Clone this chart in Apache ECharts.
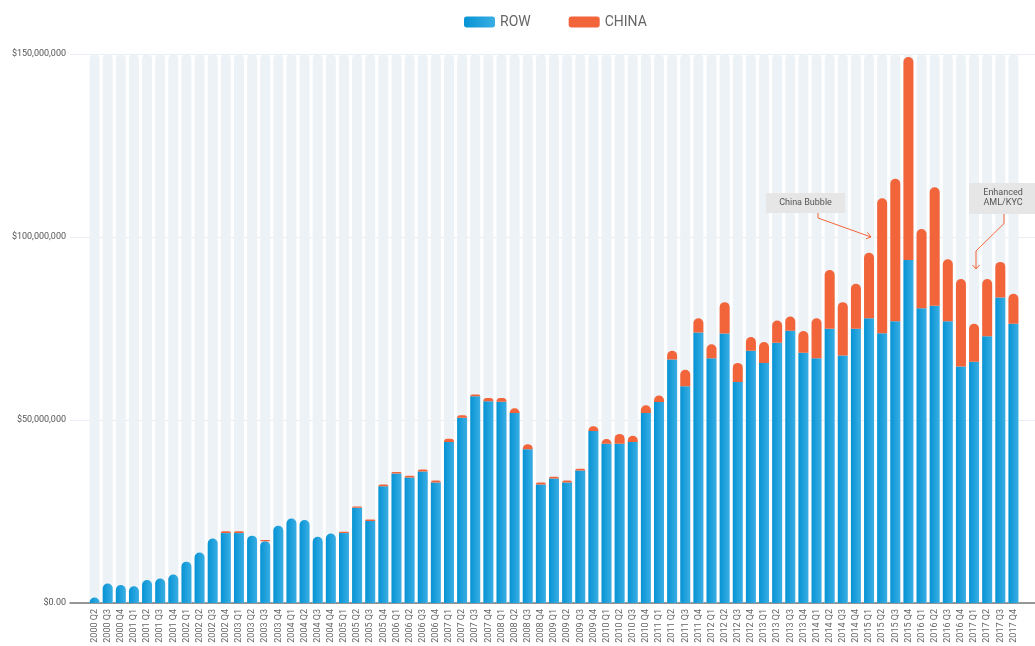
<!DOCTYPE html>
<html>
<head>
<meta charset="utf-8">
<script src="https://cdn.jsdelivr.net/npm/echarts@6/dist/echarts.min.js"></script>
<style>
  html, body { margin: 0; padding: 0; background: #fff; }
  #chart { width: 1035px; height: 646px; }
</style>
</head>
<body>
<div id="chart"></div>
<script>
  // quarters, values in millions of dollars
  const quarters = [
    '2000 Q2', '2000 Q3', '2000 Q4',
    '2001 Q1', '2001 Q2', '2001 Q3', '2001 Q4',
    '2002 Q1', '2002 Q2', '2002 Q3', '2002 Q4',
    '2003 Q1', '2003 Q2', '2003 Q3', '2003 Q4',
    '2004 Q1', '2004 Q2', '2004 Q3', '2004 Q4',
    '2005 Q1', '2005 Q2', '2005 Q3', '2005 Q4',
    '2006 Q1', '2006 Q2', '2006 Q3', '2006 Q4',
    '2007 Q1', '2007 Q2', '2007 Q3', '2007 Q4',
    '2008 Q1', '2008 Q2', '2008 Q3', '2008 Q4',
    '2009 Q1', '2009 Q2', '2009 Q3', '2009 Q4',
    '2010 Q1', '2010 Q2', '2010 Q3', '2010 Q4',
    '2011 Q1', '2011 Q2', '2011 Q3', '2011 Q4',
    '2012 Q1', '2012 Q2', '2012 Q3', '2012 Q4',
    '2013 Q1', '2013 Q2', '2013 Q3', '2013 Q4',
    '2014 Q1', '2014 Q2', '2014 Q3', '2014 Q4',
    '2015 Q1', '2015 Q2', '2015 Q3', '2015 Q4',
    '2016 Q1', '2016 Q2', '2016 Q3', '2016 Q4',
    '2017 Q1', '2017 Q2', '2017 Q3', '2017 Q4'
  ];

  const rowValues = [
    1.5, 5.3, 4.9,
    4.6, 6.3, 6.7, 7.8,
    11.3, 13.8, 17.6, 19.1,
    19.1, 18.4, 16.9, 21.1,
    23.1, 22.7, 18.1, 19.0,
    19.1, 26.0, 22.4, 31.9,
    35.4, 34.3, 35.9, 32.9,
    44.0, 50.6, 56.5, 55.1,
    55.0, 51.9, 42.0, 32.4,
    34.0, 32.9, 36.2, 47.0,
    43.5, 43.5, 44.0, 51.9,
    54.9, 66.5, 59.2, 73.9,
    66.9, 73.6, 60.4, 68.9,
    65.6, 71.1, 74.4, 68.4,
    66.9, 74.9, 67.6, 74.9,
    77.8, 73.7, 77.0, 93.7,
    80.5, 81.2, 77.0, 64.6,
    65.9, 72.9, 83.5, 76.3
  ];

  const chinaValues = [
    0, 0, 0,
    0, 0, 0, 0,
    0, 0, 0, 0.5,
    0.5, 0, 0.3, 0,
    0, 0, 0, 0,
    0.4, 0.4, 0.4, 0.5,
    0.4, 0.5, 0.6, 0.6,
    0.9, 0.7, 0.5, 0.9,
    1.0, 1.3, 1.4, 0.5,
    0.5, 0.6, 0.5, 1.3,
    1.3, 2.7, 1.7, 2.1,
    1.8, 2.4, 4.5, 3.9,
    3.8, 8.6, 5.2, 3.8,
    5.7, 6.1, 3.9, 5.9,
    10.9, 16.1, 14.6, 12.3,
    17.9, 36.9, 38.9, 55.5,
    21.7, 32.4, 16.9, 23.9,
    10.4, 15.6, 9.7, 8.2
  ];

  const blue = new echarts.graphic.LinearGradient(0, 0, 1, 0, [
    {offset: 0, color: '#0693d4'},
    {offset: 1, color: '#3aaee4'}
  ]);
  const orange = '#f2643a';
  const annotColor = '#f26538';

  const chart = echarts.init(document.getElementById('chart'));

  // blue bars get a round top only when there is (almost) no china part above
  const rowData = rowValues.map((v, i) => ({
    value: v,
    itemStyle: {borderRadius: chinaValues[i] < 0.35 ? [5, 5, 0, 0] : 0}
  }));

  const option = {
    animation: false,
    textStyle: {fontFamily: 'Roboto'},
    legend: {
      data: ['ROW', 'CHINA'],
      left: 459,
      top: 10,
      icon: 'roundRect',
      itemWidth: 31,
      itemHeight: 11,
      itemGap: 38,
      textStyle: {fontSize: 14, color: '#666', fontFamily: 'Roboto'}
    },
    grid: [
      {left: 70, right: 0, top: 54, bottom: 43},
      {left: 88, right: 15, top: 54, bottom: 43}
    ],
    xAxis: [
      {
        gridIndex: 0,
        type: 'value',
        min: 0,
        max: 1,
        axisLabel: {show: false},
        axisTick: {show: false},
        splitLine: {show: false},
        axisLine: {show: true, lineStyle: {color: '#777', width: 1.5}}
      },
      {
        gridIndex: 1,
        type: 'category',
        data: quarters,
        axisLine: {show: false},
        axisTick: {show: false},
        axisLabel: {
          interval: 0,
          rotate: 90,
          fontSize: 9,
          color: '#666',
          margin: 6
        }
      }
    ],
    yAxis: [
      {
        gridIndex: 0,
        type: 'value',
        min: 0,
        max: 150,
        interval: 50,
        axisLine: {show: false},
        axisTick: {show: false},
        axisLabel: {
          fontSize: 9,
          color: '#555',
          margin: 4,
          formatter: v => v === 0 ? '$0.00' : '$' + (v * 1e6).toLocaleString('en-US')
        },
        splitLine: {lineStyle: {color: '#e8eef3', width: 1}}
      },
      {
        gridIndex: 1,
        type: 'value',
        min: 0,
        max: 150,
        interval: 50,
        show: false
      }
    ],
    series: [
      {
        name: 'ROW',
        type: 'bar',
        stack: 'total',
        xAxisIndex: 1,
        yAxisIndex: 1,
        barWidth: 10,
        data: rowData,
        itemStyle: {color: blue},
        showBackground: true,
        backgroundStyle: {color: '#edf2f6', borderRadius: [5, 5, 0, 0]}
      },
      {
        name: 'CHINA',
        type: 'bar',
        stack: 'total',
        xAxisIndex: 1,
        yAxisIndex: 1,
        barWidth: 10,
        data: chinaValues,
        itemStyle: {color: orange, borderRadius: [5, 5, 0, 0]}
      }
    ],
    graphic: [
      {
        type: 'group',
        z: 100,
        children: [
          {
            type: 'rect',
            z: 100,
            shape: {x: 766, y: 193, width: 79, height: 20},
            style: {fill: '#e6e6e6'}
          },
          {
            type: 'text',
            z: 101,
            x: 805.5,
            y: 203,
            style: {text: 'China Bubble', fontSize: 9, fill: '#555', fontFamily: 'Roboto',
                    align: 'center', verticalAlign: 'middle'}
          },
          {
            type: 'polyline',
            z: 101,
            shape: {points: [[818, 213], [818, 218], [871, 237]]},
            style: {stroke: annotColor, lineWidth: 1, fill: null}
          },
          {
            type: 'polyline',
            z: 101,
            shape: {points: [[867.5, 232.5], [871, 237], [866, 238.8]]},
            style: {stroke: annotColor, lineWidth: 1, fill: null}
          },
          {
            type: 'rect',
            z: 100,
            shape: {x: 969, y: 183, width: 66, height: 31},
            style: {fill: '#e6e6e6'}
          },
          {
            type: 'text',
            z: 101,
            x: 1003,
            y: 198,
            style: {text: 'Enhanced\nAML/KYC', fontSize: 9, lineHeight: 10, fill: '#555',
                    fontFamily: 'Roboto', align: 'center', verticalAlign: 'middle'}
          },
          {
            type: 'polyline',
            z: 101,
            shape: {points: [[1004, 214], [1004, 223.5], [976, 251], [976, 269]]},
            style: {stroke: annotColor, lineWidth: 1, fill: null}
          },
          {
            type: 'polyline',
            z: 101,
            shape: {points: [[972.5, 265], [976, 269], [979.5, 265]]},
            style: {stroke: annotColor, lineWidth: 1, fill: null}
          }
        ]
      }
    ]
  };

  chart.setOption(option);
</script>
</body>
</html>
